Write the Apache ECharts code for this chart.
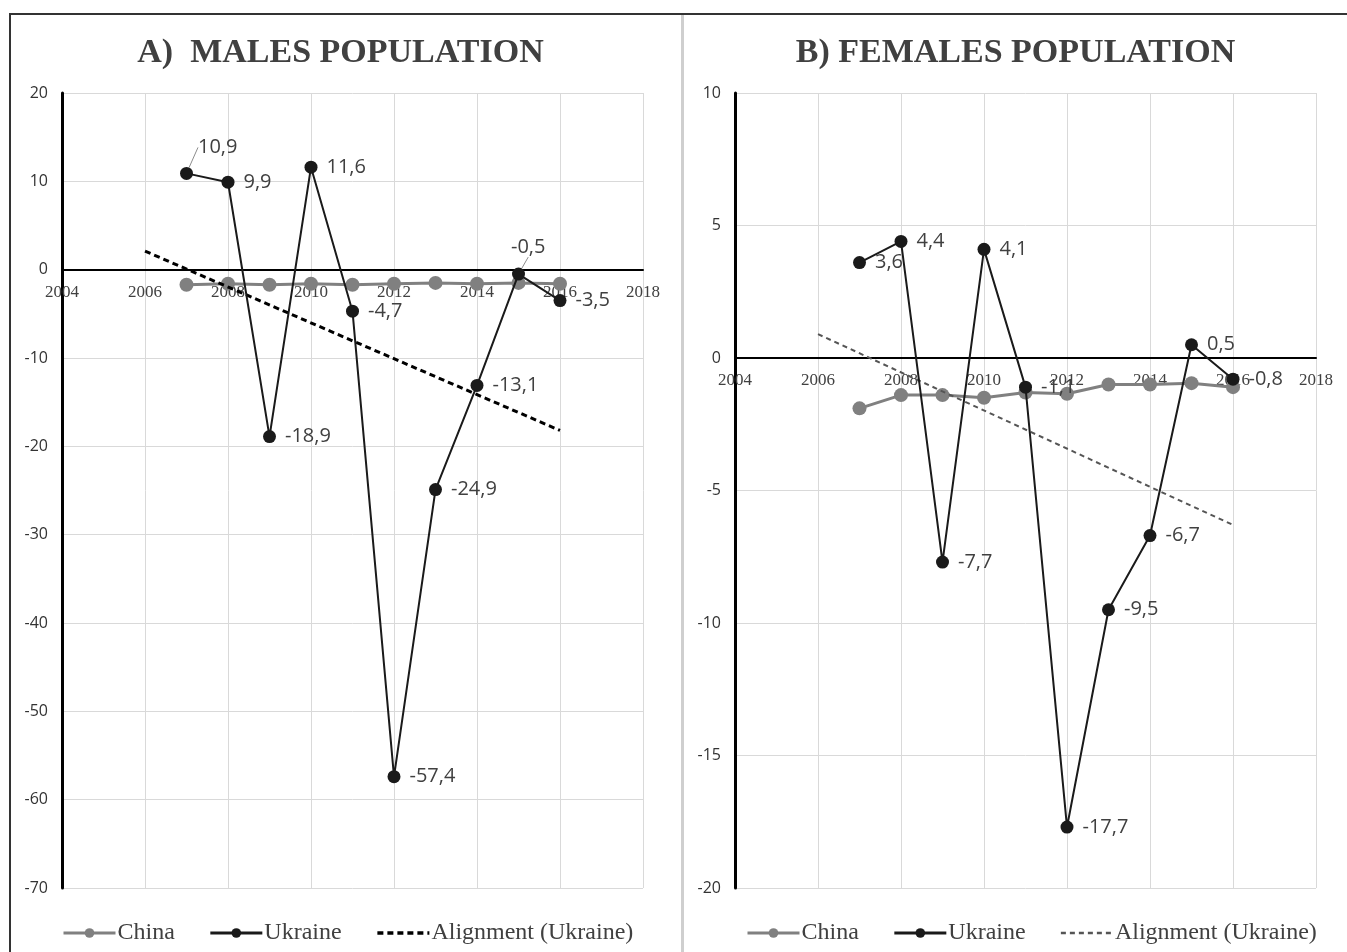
<!DOCTYPE html>
<html>
<head>
<meta charset="utf-8">
<script src="https://cdn.jsdelivr.net/npm/echarts@6/dist/echarts.min.js"></script>
<style>
  html, body { margin: 0; padding: 0; background: #fff; }
  #wrap { position: relative; width: 1347px; height: 952px; overflow: hidden; }
  .frame-top { position: absolute; left: 9px; top: 13px; width: 1338px; height: 2px; background: #333; }
  .frame-left { position: absolute; left: 9px; top: 13px; width: 2px; height: 939px; background: #333; }
  .divider { position: absolute; left: 681px; top: 15px; width: 3px; height: 937px; background: #cfcfcf; }
  #males { position: absolute; left: 0; top: 0; width: 681px; height: 952px; }
  #females { position: absolute; left: 684px; top: 0; width: 663px; height: 952px; }
</style>
</head>
<body>
<div id="wrap">
  <div id="males"></div>
  <div id="females"></div>
  <div class="frame-top"></div>
  <div class="frame-left"></div>
  <div class="divider"></div>
</div>
<script>
// Years plotted on both panels
const years = [2007, 2008, 2009, 2010, 2011, 2012, 2013, 2014, 2015, 2016];

// A) Males population
const malesChina   = [-1.7, -1.6, -1.7, -1.6, -1.7, -1.6, -1.5, -1.6, -1.5, -1.6];
const malesUkraine = [10.9, 9.9, -18.9, 11.6, -4.7, -57.4, -24.9, -13.1, -0.5, -3.5];
const malesTrendYears  = [2006, 2016];
const malesTrendValues = [2.1, -18.2];

// B) Females population
const femalesChina   = [-1.9, -1.4, -1.4, -1.5, -1.3, -1.35, -1.0, -1.0, -0.95, -1.1];
const femalesUkraine = [3.6, 4.4, -7.7, 4.1, -1.1, -17.7, -9.5, -6.7, 0.5, -0.8];
const femalesTrendYears  = [2006, 2016];
const femalesTrendValues = [0.9, -6.3];

const SERIF = '"Liberation Serif", "DejaVu Serif", serif';
const SANS = '"Open Sans", "Liberation Sans", sans-serif';

const GRID_TOP = 93;
const GRID_BOTTOM = 64;
const CHART_H = 952;

function pairs(xs, ys) { return xs.map((x, i) => [x, ys[i]]); }
function comma(v) { return String(v).replace('.', ','); }

function buildOption(cfg) {
  // distance from the bottom of the plot to the value 0, used to put the year labels on the zero line
  const plotH = CHART_H - GRID_TOP - GRID_BOTTOM;
  const zeroFromBottom = plotH * (0 - cfg.yMin) / (cfg.yMax - cfg.yMin);

  const ukraineData = years.map((x, i) => {
    const item = { value: [x, cfg.ukraine[i]] };
    if (cfg.moved[i]) item.labelLine = { show: true, lineStyle: { color: '#8c8c8c', width: 1 } };
    return item;
  });

  return {
    animation: false,
    title: {
      text: cfg.title,
      left: 'center',
      top: 31,
      textStyle: { fontFamily: SERIF, fontWeight: 'bold', fontSize: 34, color: '#404040' }
    },
    legend: {
      left: 57,
      top: 916,
      itemWidth: 52,
      itemHeight: 12,
      itemGap: 34,
      textStyle: { fontFamily: SERIF, fontSize: 24, color: '#404040', padding: [0, 0, 0, -3] },
      data: [
        { name: 'China', lineStyle: { width: 3 } },
        { name: 'Ukraine', lineStyle: { width: 3 } },
        { name: 'Alignment (Ukraine)', itemStyle: { opacity: 0 }, lineStyle: { width: cfg.trendWidth + 0.5 } }
      ]
    },
    grid: { left: cfg.gridLeft, right: cfg.gridRight, top: GRID_TOP, bottom: GRID_BOTTOM },
    xAxis: [
      {
        type: 'value',
        min: 2004, max: 2018, interval: 2,
        axisLine: { onZero: true, lineStyle: { color: '#000', width: 2 } },
        axisTick: { show: false },
        axisLabel: { show: false },
        splitLine: { show: true, lineStyle: { color: '#d9d9d9', width: 1 } }
      },
      {
        // year labels only, lifted up to the zero line
        type: 'value',
        position: 'bottom',
        offset: -zeroFromBottom,
        min: 2004, max: 2018, interval: 2,
        axisLine: { show: false, onZero: false },
        axisTick: { show: false },
        splitLine: { show: false },
        axisLabel: {
          margin: 14, fontFamily: SERIF, fontSize: 17, color: '#404040',
          showMinLabel: true, showMaxLabel: true,
          formatter: v => String(v)
        }
      }
    ],
    yAxis: {
      type: 'value',
      min: cfg.yMin, max: cfg.yMax, interval: cfg.yInterval,
      axisLine: { show: true, onZero: false, lineStyle: { color: '#000', width: 3 } },
      axisTick: { show: false },
      axisLabel: { margin: 14, fontFamily: SANS, fontSize: 16, color: '#333' },
      splitLine: { show: true, lineStyle: { color: '#d9d9d9', width: 1 } }
    },
    series: [
      {
        name: 'China',
        type: 'line',
        data: pairs(years, cfg.china),
        symbol: 'circle',
        symbolSize: 14,
        lineStyle: { color: '#808080', width: 3 },
        itemStyle: { color: '#808080' },
        z: 2
      },
      {
        name: 'Ukraine',
        type: 'line',
        data: ukraineData,
        symbol: 'circle',
        symbolSize: 13,
        lineStyle: { color: '#1a1a1a', width: 2 },
        itemStyle: { color: '#1a1a1a' },
        label: {
          show: true,
          position: 'right',
          distance: 9,
          fontFamily: SANS,
          fontSize: 20,
          color: '#404040',
          formatter: p => comma(p.value[1])
        },
        labelLine: { show: false },
        labelLayout: p => cfg.moved[p.dataIndex] || {},
        z: 4
      },
      {
        name: 'Alignment (Ukraine)',
        type: 'line',
        data: pairs(cfg.trendYears, cfg.trendValues),
        symbol: 'none',
        lineStyle: { color: cfg.trendColor, width: cfg.trendWidth, type: cfg.trendDash },
        itemStyle: { color: cfg.trendColor },
        z: 3
      }
    ]
  };
}

const males = echarts.init(document.getElementById('males'));
males.setOption(buildOption({
  title: 'A)  MALES POPULATION',
  gridLeft: 62, gridRight: 38,
  yMin: -70, yMax: 20, yInterval: 10,
  china: malesChina, ukraine: malesUkraine,
  trendYears: malesTrendYears, trendValues: malesTrendValues,
  trendColor: '#000', trendWidth: 3, trendDash: [6, 4],
  moved: { 0: { dx: -4, dy: -26 }, 8: { dx: -23, dy: -27 } }
}));

const females = echarts.init(document.getElementById('females'));
females.setOption(buildOption({
  title: 'B) FEMALES POPULATION',
  gridLeft: 51, gridRight: 31,
  yMin: -20, yMax: 10, yInterval: 5,
  china: femalesChina, ukraine: femalesUkraine,
  trendYears: femalesTrendYears, trendValues: femalesTrendValues,
  trendColor: '#555', trendWidth: 2, trendDash: [5, 4],
  moved: {}
}));
</script>
</body>
</html>
